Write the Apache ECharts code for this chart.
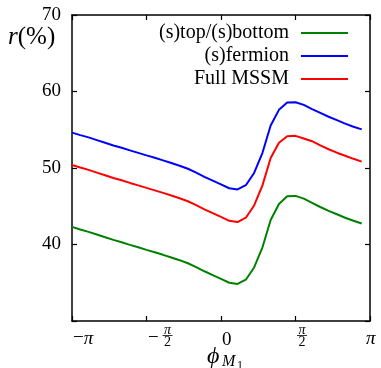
<!DOCTYPE html>
<html><head><meta charset="utf-8">
<script src="https://cdn.jsdelivr.net/npm/echarts@6/dist/echarts.min.js"></script>
<style>html,body{margin:0;padding:0;background:#fff}#c{width:381px;height:368px}</style>
</head><body><div id="c"></div>
<script>
// phi_{M1} in degrees (sampled every 10 degrees)
const phiDeg = [-180,-170,-160,-150,-140,-130,-120,-110,-100,-90,-80,-70,-60,-50,-40,-30,-20,-10,0,10,20,30,40,50,60,70,80,90,100,110,120,130,140,150,160,170];
const stopSbottom = [42.3,41.97,41.65,41.3,40.95,40.6,40.3,39.95,39.63,39.3,38.98,38.65,38.3,37.95,37.55,37.05,36.5,36.0,35.5,35.0,34.85,35.4,37.0,39.6,43.2,45.3,46.3,46.35,46.0,45.45,44.9,44.4,43.95,43.5,43.1,42.75];
const sfermion = [54.62,54.3,54.0,53.65,53.3,52.95,52.65,52.3,51.98,51.65,51.33,51.0,50.65,50.3,49.9,49.4,48.85,48.35,47.85,47.35,47.2,47.75,49.35,51.95,55.55,57.6,58.55,58.6,58.25,57.7,57.2,56.7,56.25,55.8,55.4,55.05];
const fullMSSM = [50.4,50.07,49.75,49.4,49.05,48.7,48.4,48.05,47.73,47.4,47.08,46.75,46.4,46.05,45.65,45.15,44.6,44.1,43.6,43.1,42.93,43.5,45.1,47.7,51.3,53.3,54.15,54.2,53.85,53.5,52.95,52.45,52.0,51.6,51.2,50.83];
const seriesNames = ['(s)top/(s)bottom','(s)fermion','Full MSSM'];
const seriesColors = ['#008000','#0000ff','#ff0000'];
const xTickValues = [-180,-90,0,90,180];
const xTickLabels = ['−π','−π/2','0','π/2','π'];
const yTickHidden = [30];

const FONT = '"Liberation Serif", "DejaVu Serif", serif';
const chart = echarts.init(document.getElementById('c'), null, {renderer:'canvas'});

function axisBase(pos, showLabel){
  return {
    type:'value', position:pos,
    axisLine:{show:true, onZero:false, lineStyle:{color:'#000', width:1.5}},
    axisTick:{show:true, inside:true, length:5, lineStyle:{color:'#000', width:1.2}},
    splitLine:{show:false},
    axisLabel:{show:showLabel}
  };
}
const xb = Object.assign(axisBase('bottom', false), {min:-180, max:180, interval:90});
const xt = Object.assign(axisBase('top', false), {min:-180, max:180, interval:90});
const yl = Object.assign(axisBase('left', true), {min:30, max:70, interval:10});
yl.axisLabel = {show:true, margin:11, fontFamily:FONT, fontSize:19, color:'#000',
  showMinLabel:true, showMaxLabel:true,
  formatter: v => yTickHidden.includes(v) ? '' : String(v)};
const yr = Object.assign(axisBase('right', false), {min:30, max:70, interval:10});

const dataSets = [stopSbottom, sfermion, fullMSSM];
const series = dataSets.map((arr, k) => ({
  name: seriesNames[k], type:'line', symbol:'none', showSymbol:false, smooth:false,
  xAxisIndex:0, yAxisIndex:0,
  lineStyle:{color:seriesColors[k], width:2}, itemStyle:{color:seriesColors[k]},
  data: phiDeg.map((x,i)=>[x, arr[i]])
}));

chart.setOption({
  animation:false,
  grid:{left:72, right:11, top:15, bottom:47},
  xAxis:[xb, xt],
  yAxis:[yl, yr],
  legend:{
    orient:'vertical', right:33, top:23, padding:0, align:'right',
    icon:'rect', itemWidth:47, itemHeight:2, itemGap:3,
    textStyle:{fontFamily:FONT, fontSize:20, color:'#000', padding:[0,7,0,0]},
    data: seriesNames
  },
  series: series
});

// tick labels and axis titles placed through the axis scales
const g = [];
const baseY = chart.convertToPixel({yAxisIndex:0}, 30);
const W = chart.getWidth();
xTickValues.forEach((v, i) => {
  const T = chart.convertToPixel({xAxisIndex:0}, v);
  const lab = xTickLabels[i];
  if (lab.indexOf('/') >= 0) {
    const neg = lab[0] === '−';
    let x0 = T + 1.5;
    if (neg) {
      g.push({type:'text', x:x0, y:baseY+17, style:{text:'−', font:'19px '+FONT, fill:'#000', align:'left', verticalAlign:'middle'}});
      x0 += 14.5;
    }
    const cx = x0 + 5;
    g.push({type:'text', x:cx, y:baseY+9.5, style:{text:'π', font:'italic 14px '+FONT, fill:'#000', align:'center', verticalAlign:'middle'}});
    g.push({type:'line', shape:{x1:cx-5, y1:baseY+14.5, x2:cx+5, y2:baseY+14.5}, style:{stroke:'#000', lineWidth:0.8}});
    g.push({type:'text', x:cx, y:baseY+21.5, style:{text:'2', font:'14px '+FONT, fill:'#000', align:'center', verticalAlign:'middle'}});
  } else {
    let x0 = T + 1;
    if (x0 > W - 15) x0 = W - 15;
    const rich = lab.indexOf('π') >= 0;
    if (rich) {
      const parts = lab.split('π');
      g.push({type:'text', x:x0, y:baseY+17.5, style:{text:(parts[0] ? '{n|'+parts[0]+'}' : '') + '{i|π}', fill:'#000', align:'left', verticalAlign:'middle',
        rich:{n:{fontFamily:FONT, fontSize:19, fill:'#000'}, i:{fontFamily:FONT, fontSize:19, fontStyle:'italic', fill:'#000'}}}});
    } else {
      g.push({type:'text', x:x0, y:baseY+19.5, style:{text:lab, font:'19px '+FONT, fill:'#000', align:'left', verticalAlign:'middle'}});
    }
  }
});
const mid = chart.convertToPixel({xAxisIndex:0}, 0);
g.push({type:'text', x:mid-14, y:baseY+36, style:{text:'ϕ', font:'italic 24px '+FONT, fill:'#000', align:'left', verticalAlign:'middle'}});
g.push({type:'text', x:mid+1, y:baseY+41, style:{text:'M', font:'italic 16px '+FONT, fill:'#000', align:'left', verticalAlign:'middle'}});
g.push({type:'text', x:mid+16, y:baseY+45, style:{text:'1', font:'12px '+FONT, fill:'#000', align:'left', verticalAlign:'middle'}});
g.push({type:'text', x:8, y:37, style:{text:'{i|r}{n|(%)}', fill:'#000', align:'left', verticalAlign:'middle',
  rich:{i:{fontFamily:FONT, fontSize:25, fontStyle:'italic', fill:'#000'}, n:{fontFamily:FONT, fontSize:25, fill:'#000'}}}});
chart.setOption({graphic: g});
</script>
</body></html>
